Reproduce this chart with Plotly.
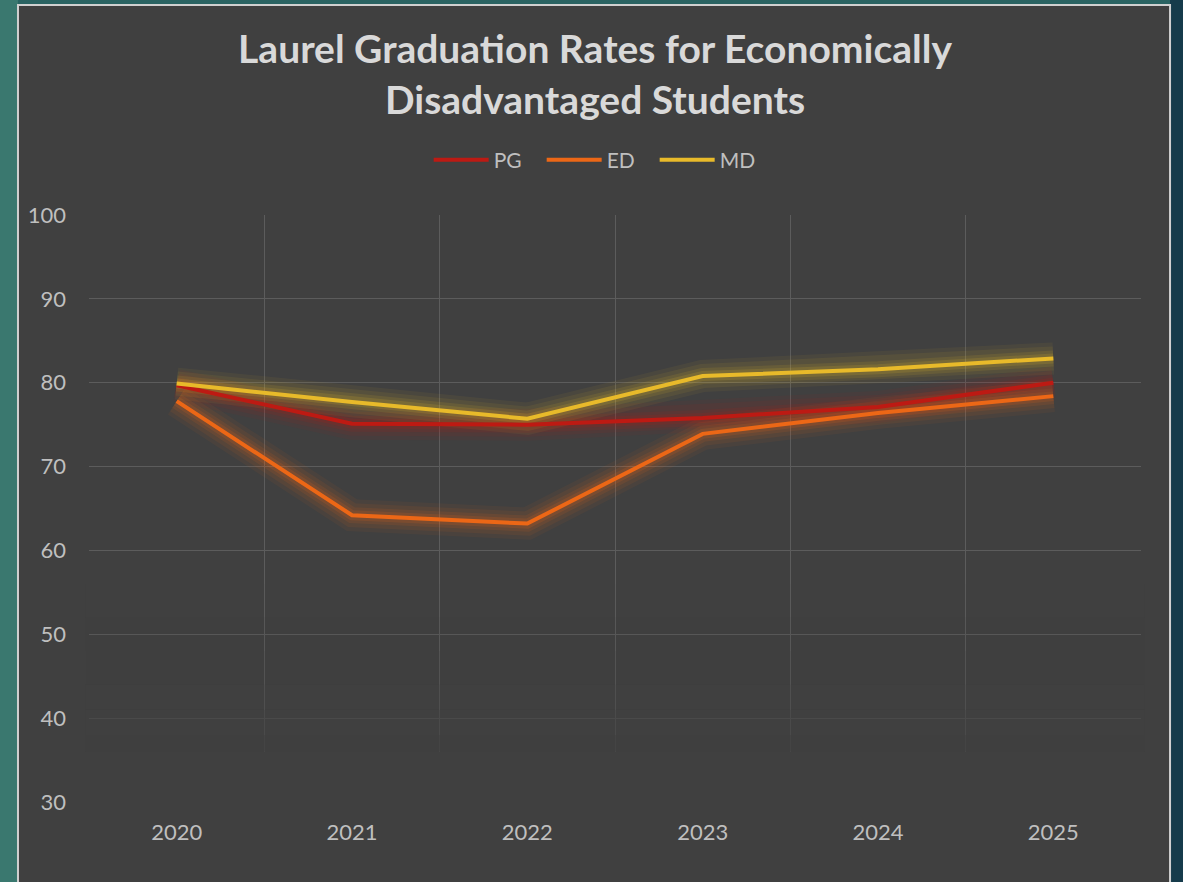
import plotly.graph_objects as go

years = ["2020", "2021", "2022", "2023", "2024", "2025"]
pg = [79.7, 75.1, 75.0, 75.8, 77.1, 80.0]
ed = [77.8, 64.2, 63.2, 73.9, 76.4, 78.4]
md = [79.9, 77.7, 75.7, 80.8, 81.6, 82.9]
y_ticks = [30, 40, 50, 60, 70, 80, 90, 100]

series = [("PG", pg, "#BD1A13"), ("ED", ed, "#EC6716"), ("MD", md, "#E8BA2A")]

fig = go.Figure()

# glow layers
for name, vals, col in series:
    for w, op in [(32, 0.06), (24, 0.08), (16, 0.11), (10, 0.15)]:
        fig.add_trace(go.Scatter(x=years, y=vals, mode="lines", showlegend=False,
                                 hoverinfo="skip", opacity=op,
                                 line=dict(color=col, width=w)))
for name, vals, col in series:
    fig.add_trace(go.Scatter(x=years, y=vals, mode="lines", name=name,
                             line=dict(color=col, width=4)))

shapes = []
# outer background strips
shapes.append(dict(type="rect", xref="paper", yref="paper", x0=-0.2, x1=-0.0675,
                   y0=-0.3, y1=1.5, fillcolor="#3A786F", line_width=0, layer="below"))
shapes.append(dict(type="rect", xref="paper", yref="paper", x0=1.0276, x1=1.1,
                   y0=-0.3, y1=1.5, fillcolor="#163B4B", line_width=0, layer="below"))
# chart box
shapes.append(dict(type="rect", xref="paper", yref="paper", x0=-0.0675, x1=1.0276,
                   y0=-0.2, y1=1.3578, fillcolor="#404040",
                   line=dict(color="#D0D0D0", width=2), layer="below"))
# fade grid at bottom
for y0, y1, op in [(29.5, 36, 1.0), (36, 38, 0.85), (38, 41, 0.65), (41, 44, 0.45),
                   (44, 48, 0.3), (48, 52, 0.16), (52, 56, 0.07)]:
    shapes.append(dict(type="rect", xref="paper", yref="y", x0=-0.003, x1=1.003,
                       y0=y0, y1=y1, fillcolor="#404040", opacity=op,
                       line_width=0, layer="above"))

fig.update_layout(
    width=1183, height=882,
    margin=dict(l=89, r=42, t=215, b=80),
    paper_bgcolor="#2A6362",
    plot_bgcolor="rgba(0,0,0,0)",
    shapes=shapes,
    font=dict(family="Lato", color="#BFBFBF"),
    title=dict(text="<b>Laurel Graduation Rates for Economically<br>Disadvantaged Students</b>",
               x=0.503, xanchor="center", y=0.9286, yanchor="middle",
               font=dict(size=39, color="#D9D9D9", family="Lato")),
    legend=dict(orientation="h", x=0.484, xanchor="center", y=1.0 + 55 / 587,
                yanchor="middle", font=dict(size=21, color="#BFBFBF"),
                bgcolor="rgba(0,0,0,0)", itemwidth=55,
                entrywidth=43, entrywidthmode="pixels"),
    xaxis=dict(type="category", range=[-0.5, 5.5], tickson="boundaries",
               showgrid=True, gridcolor="#5C5C5C", gridwidth=1, ticks="",
               showline=False, zeroline=False, tickfont=dict(size=22, color="#BFBFBF"),
               ticklabelstandoff=15),
    yaxis=dict(range=[30, 100], tickvals=y_ticks, showgrid=True, gridcolor="#5C5C5C",
               gridwidth=1, zeroline=False, showline=False, ticks="",
               tickfont=dict(size=22, color="#BFBFBF"), ticklabelstandoff=22),
    showlegend=True,
)

fig.write_html("out.html", config={"displayModeBar": False},
               post_script="document.body.style.margin='0';"
                           "document.body.style.background='#2A6362';")
